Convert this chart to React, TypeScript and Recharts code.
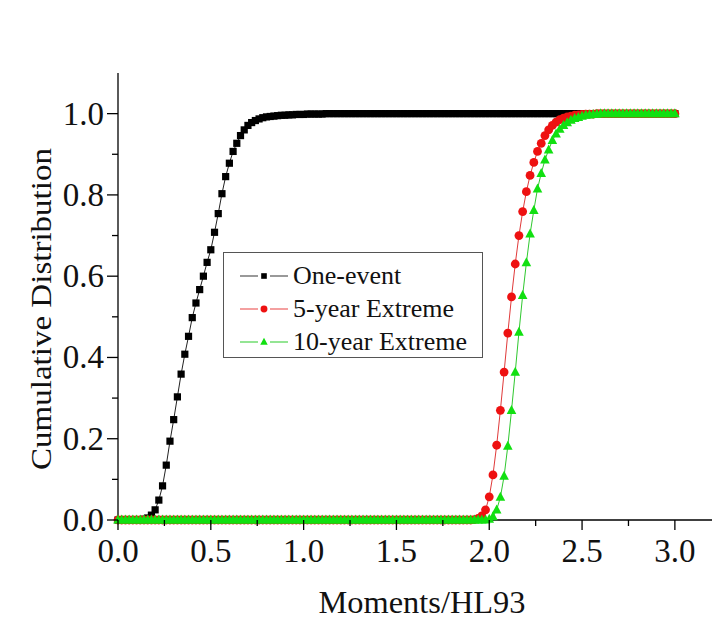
import { LineChart, Line, XAxis, YAxis, Legend } from 'recharts'

const FONT = '"Liberation Serif", "Times New Roman", serif'

// sample spacing along Moments/HL93 (x = index * X_STEP, 0 .. 3.0)
const X_STEP = 0.02

const oneEvent = [
  0, 0, 0, 0, 0, 0, 0, 0.002, 0.005, 0.012, 0.025, 0.049, 0.084, 0.135, 0.194, 0.247, 0.303, 0.359, 0.408, 0.452,
  0.498, 0.534, 0.567, 0.6, 0.634, 0.665, 0.708, 0.754, 0.803, 0.845, 0.878, 0.907, 0.927, 0.946, 0.96, 0.971, 0.978, 0.983, 0.987, 0.99,
  0.992, 0.993, 0.994, 0.995, 0.996, 0.996, 0.997, 0.997, 0.998, 0.998, 0.998, 0.999, 0.999, 0.999, 0.999, 0.999, 1, 1, 1, 1,
  1, 1, 1, 1, 1, 1, 1, 1, 1, 1, 1, 1, 1, 1, 1, 1, 1, 1, 1, 1,
  1, 1, 1, 1, 1, 1, 1, 1, 1, 1, 1, 1, 1, 1, 1, 1, 1, 1, 1, 1,
  1, 1, 1, 1, 1, 1, 1, 1, 1, 1, 1, 1, 1, 1, 1, 1, 1, 1, 1, 1,
  1, 1, 1, 1, 1, 1, 1, 1, 1, 1, 1, 1, 1, 1, 1, 1, 1, 1, 1, 1,
  1, 1, 1, 1, 1, 1, 1, 1, 1, 1, 1,
]

const fiveYear = [
  0, 0, 0, 0, 0, 0, 0, 0, 0, 0, 0, 0, 0, 0, 0, 0, 0, 0, 0, 0,
  0, 0, 0, 0, 0, 0, 0, 0, 0, 0, 0, 0, 0, 0, 0, 0, 0, 0, 0, 0,
  0, 0, 0, 0, 0, 0, 0, 0, 0, 0, 0, 0, 0, 0, 0, 0, 0, 0, 0, 0,
  0, 0, 0, 0, 0, 0, 0, 0, 0, 0, 0, 0, 0, 0, 0, 0, 0, 0, 0, 0,
  0, 0, 0, 0, 0, 0, 0, 0, 0, 0, 0, 0, 0, 0, 0, 0, 0.001, 0.004, 0.01, 0.025,
  0.057, 0.111, 0.184, 0.27, 0.364, 0.46, 0.549, 0.63, 0.7, 0.759, 0.808, 0.848, 0.88, 0.907, 0.927, 0.946, 0.96, 0.971, 0.979, 0.985,
  0.989, 0.992, 0.994, 0.996, 0.997, 0.998, 0.999, 0.999, 0.999, 1, 1, 1, 1, 1, 1, 1, 1, 1, 1, 1,
  1, 1, 1, 1, 1, 1, 1, 1, 1, 1, 1,
]

const tenYear = [
  0, 0, 0, 0, 0, 0, 0, 0, 0, 0, 0, 0, 0, 0, 0, 0, 0, 0, 0, 0,
  0, 0, 0, 0, 0, 0, 0, 0, 0, 0, 0, 0, 0, 0, 0, 0, 0, 0, 0, 0,
  0, 0, 0, 0, 0, 0, 0, 0, 0, 0, 0, 0, 0, 0, 0, 0, 0, 0, 0, 0,
  0, 0, 0, 0, 0, 0, 0, 0, 0, 0, 0, 0, 0, 0, 0, 0, 0, 0, 0, 0,
  0, 0, 0, 0, 0, 0, 0, 0, 0, 0, 0, 0, 0, 0, 0, 0, 0, 0, 0, 0,
  0.002, 0.008, 0.025, 0.056, 0.108, 0.182, 0.27, 0.364, 0.462, 0.553, 0.633, 0.704, 0.762, 0.815, 0.853, 0.886, 0.911, 0.934, 0.95, 0.962,
  0.971, 0.978, 0.984, 0.988, 0.991, 0.994, 0.996, 0.997, 0.998, 0.999, 1, 1, 1, 1, 1, 1, 1, 1, 1, 1,
  1, 1, 1, 1, 1, 1, 1, 1, 1, 1, 1,
]

const xTicks = [0, 0.25, 0.5, 0.75, 1, 1.25, 1.5, 1.75, 2, 2.25, 2.5, 2.75, 3]
const yTicks = [0, 0.1, 0.2, 0.3, 0.4, 0.5, 0.6, 0.7, 0.8, 0.9, 1.0]

const series = [
  { key: 'one', name: 'One-event', color: '#000000', line: '#222222', legendLine: '#777777', marker: 'square' },
  { key: 'five', name: '5-year Extreme', color: '#ee1111', line: '#e03a3a', legendLine: '#f08080', marker: 'circle' },
  { key: 'ten', name: '10-year Extreme', color: '#11e011', line: '#2fc82f', legendLine: '#70dd70', marker: 'triangle' },
]

const data = oneEvent.map((v, i) => ({
  x: +(i * X_STEP).toFixed(2),
  one: v,
  five: fiveYear[i],
  ten: tenYear[i],
}))

function Marker({ kind, cx, cy, color, s = 1 }: any) {
  if (kind === 'square') {
    const h = 3.6 * s
    return <rect x={cx - h} y={cy - h} width={h * 2} height={h * 2} fill={color} />
  }
  if (kind === 'circle') return <circle cx={cx} cy={cy} r={4.4 * s} fill={color} />
  const w = 4.8 * s
  return (
    <polygon
      points={`${cx},${cy - 5.4 * s} ${cx + w},${cy + 3.6 * s} ${cx - w},${cy + 3.6 * s}`}
      fill={color}
    />
  )
}

const makeDot = (kind: string, color: string) => (p: any) => {
  if (p.cx == null || p.cy == null) return <g key={`${kind}-${p.index}`} />
  return (
    <g key={`${kind}-${p.index}`}>
      <Marker kind={kind} cx={p.cx} cy={p.cy} color={color} />
    </g>
  )
}

function XTick({ x, y, payload }: any) {
  const v = payload.value
  const major = Math.round(v * 4) % 2 === 0
  return (
    <g>
      <line x1={x} y1={y} x2={x} y2={y + (major ? 10 : 6)} stroke="#000" strokeWidth={1.3} />
      {major && (
        <text x={x} y={y + 42} textAnchor="middle" fontFamily={FONT} fontSize={33} fill="#111">
          {v.toFixed(1)}
        </text>
      )}
    </g>
  )
}

function YTick({ x, y, payload }: any) {
  const v = payload.value
  const major = Math.round(v * 10) % 2 === 0
  return (
    <g>
      <line x1={x} y1={y} x2={x - (major ? 11 : 6)} y2={y} stroke="#000" strokeWidth={1.3} />
      {major && (
        <text x={x - 14} y={y + 11} textAnchor="end" fontFamily={FONT} fontSize={33} fill="#111">
          {v.toFixed(1)}
        </text>
      )}
    </g>
  )
}

function LegendBox() {
  return (
    <div
      style={{
        width: 260,
        height: 106,
        border: '1.5px solid #555',
        background: '#fff',
        fontFamily: FONT,
        fontSize: 26,
        color: '#111',
        boxSizing: 'border-box',
        paddingTop: 6,
      }}
    >
      {series.map((s) => (
        <div key={s.key} style={{ display: 'flex', alignItems: 'center', height: 33, lineHeight: '33px' }}>
          <svg width={68} height={20} style={{ flex: 'none' }}>
            <line x1={16} y1={10} x2={34} y2={10} stroke={s.legendLine} strokeWidth={1.5} />
            <line x1={46} y1={10} x2={64} y2={10} stroke={s.legendLine} strokeWidth={1.5} />
            <Marker kind={s.marker} cx={40} cy={10} color={s.color} s={0.78} />
          </svg>
          <span style={{ whiteSpace: 'nowrap', marginLeft: 1 }}>{s.name}</span>
        </div>
      ))}
    </div>
  )
}

export default function App() {
  return (
    <div style={{ position: 'absolute', left: 0, top: 0, width: 714, height: 622, background: '#fff' }}>
      <LineChart width={714} height={622} data={data} margin={{ top: 73, right: 2, bottom: 2, left: 0 }}>
        <XAxis
          dataKey="x"
          type="number"
          domain={[0, 3.2]}
          ticks={xTicks}
          interval={0}
          tickSize={0}
          tickMargin={0}
          tickLine={false}
          tick={<XTick />}
          height={100}
          axisLine={{ stroke: '#000', strokeWidth: 1.3 }}
          label={{
            content: ({ viewBox }: any) => (
              <text
                x={viewBox.x + viewBox.width / 2 + 7}
                y={viewBox.y + 93}
                textAnchor="middle"
                fontFamily={FONT}
                fontSize={31}
                textLength={207}
                lengthAdjust="spacingAndGlyphs"
                fill="#111"
              >
                Moments/HL93
              </text>
            ),
          }}
        />
        <YAxis
          type="number"
          domain={[0, 1.1]}
          ticks={yTicks}
          interval={0}
          tickSize={0}
          tickMargin={0}
          tickLine={false}
          tick={<YTick />}
          width={118}
          axisLine={{ stroke: '#000', strokeWidth: 1.3 }}
          label={{
            content: () => (
              <text
                transform="translate(51, 309) rotate(-90)"
                textAnchor="middle"
                fontFamily={FONT}
                fontSize={30}
                textLength={322}
                lengthAdjust="spacingAndGlyphs"
                fill="#111"
              >
                Cumulative Distribution
              </text>
            ),
          }}
        />
        <Legend
          layout="vertical"
          align="center"
          verticalAlign="middle"
          content={() => <LegendBox />}
          wrapperStyle={{ position: 'absolute', left: 223, top: 252, width: 262, height: 108 }}
        />
        {series.map((s) => (
          <Line
            key={s.key}
            dataKey={s.key}
            name={s.name}
            type="linear"
            stroke={s.line}
            strokeWidth={1}
            dot={makeDot(s.marker, s.color)}
            activeDot={false}
            isAnimationActive={false}
          />
        ))}
      </LineChart>
    </div>
  )
}
